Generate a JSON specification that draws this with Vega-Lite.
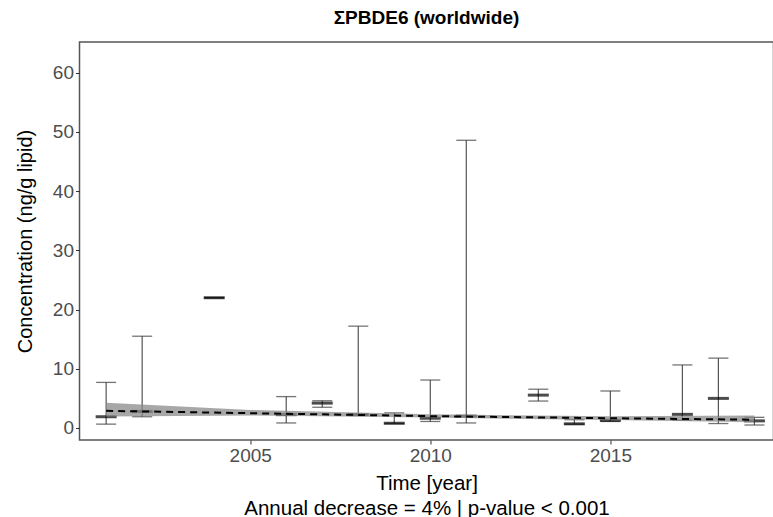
{
  "$schema": "https://vega.github.io/schema/vega-lite/v6.json",
  "width": 694,
  "height": 398,
  "autosize": "none",
  "padding": {"left": 79.5, "top": 42, "right": 0, "bottom": 77},
  "background": "white",
  "title": {"text": "ΣPBDE6 (worldwide)", "fontSize": 19, "fontWeight": "bold", "font": "Liberation Sans", "color": "#000000", "anchor": "middle", "offset": 14},
  "datasets": {
    "bars": [
      {"year": 2001, "min": 0.65, "median": 1.9, "max": 7.7},
      {"year": 2002, "min": 1.9, "median": 2.8, "max": 15.5},
      {"year": 2004, "min": 22, "median": 22, "max": 22},
      {"year": 2006, "min": 0.85, "median": 2.25, "max": 5.3},
      {"year": 2007, "min": 3.5, "median": 4.2, "max": 4.6},
      {"year": 2008, "min": 2.2, "median": 2.25, "max": 17.2},
      {"year": 2009, "min": 0.75, "median": 0.8, "max": 2.55},
      {"year": 2010, "min": 1.1, "median": 1.65, "max": 8.1},
      {"year": 2011, "min": 0.85, "median": 2.0, "max": 48.6},
      {"year": 2013, "min": 4.55, "median": 5.55, "max": 6.55},
      {"year": 2014, "min": 0.65, "median": 0.7, "max": 1.4},
      {"year": 2015, "min": 1.1, "median": 1.3, "max": 6.25},
      {"year": 2017, "min": 1.3, "median": 2.3, "max": 10.65},
      {"year": 2018, "min": 0.75, "median": 5.0, "max": 11.8},
      {"year": 2019, "min": 0.5, "median": 1.2, "max": 1.8}
    ],
    "fit": [
      {"year": 2001, "fit": 2.9, "lo": 1.95, "hi": 4.25},
      {"year": 2005, "fit": 2.5, "lo": 2.1, "hi": 3.05},
      {"year": 2010, "fit": 2.0, "lo": 1.75, "hi": 2.3},
      {"year": 2015, "fit": 1.65, "lo": 1.35, "hi": 2.0},
      {"year": 2019, "fit": 1.4, "lo": 0.95, "hi": 2.1}
    ]
  },
  "encoding": {
    "x": {
      "field": "year", "type": "quantitative",
      "scale": {"domain": [2000.26, 2019.53], "nice": false, "zero": false},
      "axis": {"values": [2005, 2010, 2015], "format": "d", "grid": false, "domain": false,
               "title": ["Time [year]", "Annual decrease = 4% | p-value < 0.001"],
               "titleFontSize": 20.5, "titleLineHeight": 25, "titlePadding": 8}
    }
  },
  "layer": [
    {
      "data": {"name": "bars"},
      "mark": {"type": "rule", "color": "#555555", "strokeWidth": 1.2},
      "encoding": {
        "y": {"field": "min", "type": "quantitative",
              "scale": {"domain": [-2.03, 65.2], "nice": false, "zero": false},
              "axis": {"values": [0, 10, 20, 30, 40, 50, 60], "grid": false, "domain": false},
              "title": "Concentration (ng/g lipid)"},
        "y2": {"field": "max"}
      }
    },
    {
      "data": {"name": "bars"},
      "mark": {"type": "tick", "orient": "horizontal", "size": 20, "thickness": 1.3, "color": "#3a3a3a"},
      "encoding": {
        "y": {"field": "min", "type": "quantitative", "title": "Concentration (ng/g lipid)"}
      }
    },
    {
      "data": {"name": "bars"},
      "mark": {"type": "tick", "orient": "horizontal", "size": 20, "thickness": 1.3, "color": "#3a3a3a"},
      "encoding": {
        "y": {"field": "max", "type": "quantitative", "title": "Concentration (ng/g lipid)"}
      }
    },
    {
      "data": {"name": "bars"},
      "mark": {"type": "tick", "orient": "horizontal", "size": 21, "thickness": 3, "color": "#000000"},
      "encoding": {
        "y": {"field": "median", "type": "quantitative", "title": "Concentration (ng/g lipid)"}
      }
    },
    {
      "data": {"name": "fit"},
      "mark": {"type": "area", "color": "#8a8a8a", "opacity": 0.75},
      "encoding": {
        "y": {"field": "lo", "type": "quantitative", "title": "Concentration (ng/g lipid)"},
        "y2": {"field": "hi"}
      }
    },
    {
      "data": {"name": "fit"},
      "mark": {"type": "line", "color": "#000000", "strokeWidth": 2, "strokeDash": [7, 5]},
      "encoding": {
        "y": {"field": "fit", "type": "quantitative", "title": "Concentration (ng/g lipid)"}
      }
    }
  ],
  "config": {
    "font": "Liberation Sans",
    "view": {"stroke": "#555555", "strokeWidth": 1.5},
    "axis": {
      "labelFont": "Liberation Sans", "labelFontSize": 19, "labelColor": "#4d4d4d",
      "titleFont": "Liberation Sans", "titleFontSize": 20, "titleFontWeight": "normal", "titleColor": "#000000",
      "tickColor": "#333333", "tickSize": 4, "tickWidth": 1, "labelPadding": 2
    },
    "axisY": {"titlePadding": 17}
  }
}
